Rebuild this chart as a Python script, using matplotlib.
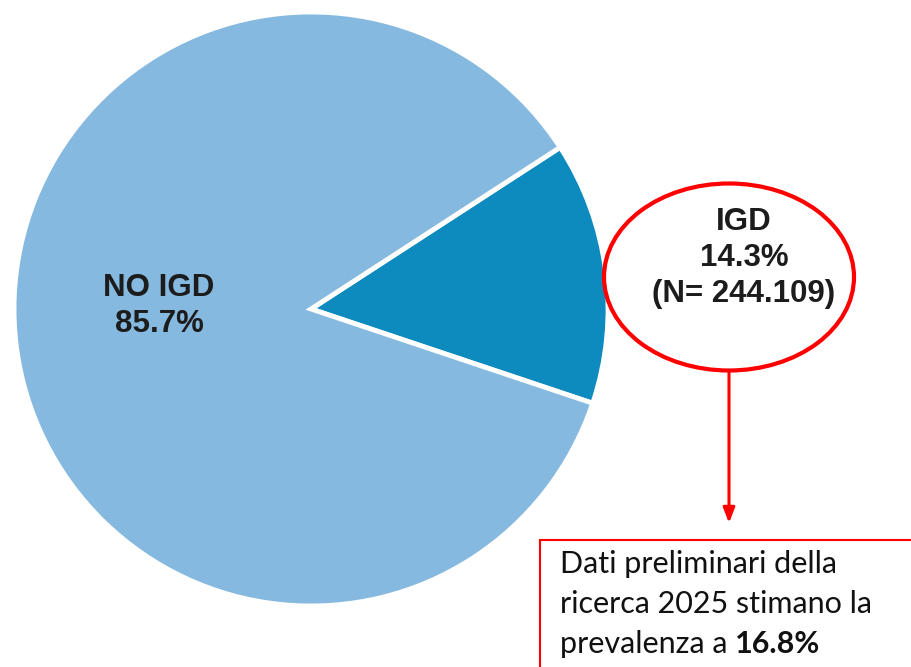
import matplotlib
matplotlib.use('Agg')
import matplotlib.pyplot as plt
from matplotlib.patches import Ellipse, Rectangle

# data
labels = ['IGD', 'NO IGD']
values = [14.3, 85.7]
colors = ['#0e8bbe', '#85b9df']
n_igd = '244.109'
note_lines = ['Dati preliminari della', 'ricerca 2025 stimano la', 'prevalenza a ']
note_bold = '16.8%'

W, H = 912, 667
fig = plt.figure(figsize=(W / 100, H / 100), dpi=100)
ax = fig.add_axes([0, 0, 1, 1])

# pie, IGD slice pulled out to the right
ax.pie(values, colors=colors, startangle=-18.5, counterclock=True,
       center=(311, H - 309), radius=297, explode=[0.075, 0],
       wedgeprops=dict(edgecolor='white', linewidth=3.5),
       frame=True)
ax.set_xlim(0, W)
ax.set_ylim(0, H)
ax.set_aspect('equal')
ax.axis('off')

lab_font = dict(family='Liberation Sans', fontweight='bold', fontsize=22.5,
                color='#1c1c1c', ha='center', va='center', linespacing=1.25)
ax.text(159, H - 306, '{}\n{:.1f}%'.format(labels[1], values[1]), **lab_font)
ax.text(744, H - 258, '{}\n{:.1f}%\n(N= {})'.format(labels[0], values[0], n_igd),
        **lab_font)

# red ellipse round the IGD label
ax.add_patch(Ellipse((729, H - 277), 250, 187, fill=False, edgecolor='#ff0000',
                     linewidth=3))

# arrow down to the note
ax.annotate('', xy=(729, H - 523), xytext=(729, H - 371),
            arrowprops=dict(arrowstyle='-|>,head_length=0.9,head_width=0.35',
                            color='#ff0000', lw=2.2, shrinkA=0, shrinkB=0))

# note box (runs off the right and bottom edge)
ax.add_patch(Rectangle((540, -10), 400, H - 540 + 10, fill=False,
                       edgecolor='#ff0000', linewidth=1.5, clip_on=False))

note_font = dict(family='Lato', fontsize=22, color='#111111', va='baseline')
ys = [573, 613, 653]
for txt, y in zip(note_lines, ys):
    t = ax.text(560, H - y, txt, **note_font)

fig.canvas.draw()
bb = t.get_window_extent(renderer=fig.canvas.get_renderer())
ax.text(bb.x1, H - ys[2], note_bold, fontweight='bold', **note_font)

fig.savefig('out.png', dpi=100)
